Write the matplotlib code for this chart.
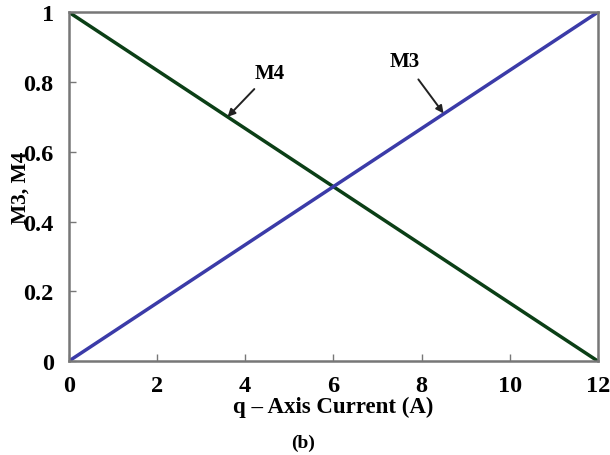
import matplotlib
matplotlib.use("Agg")
import matplotlib.pyplot as plt

current = [0, 12]
m3 = [0, 1]
m4 = [1, 0]
xticks = [0, 2, 4, 6, 8, 10, 12]
yticks = [0, 0.2, 0.4, 0.6, 0.8, 1]
ytick_labels = ["0", "0.2", "0.4", "0.6", "0.8", "1"]

plt.rcParams["font.family"] = ["Liberation Serif", "DejaVu Serif"]
plt.rcParams["font.weight"] = "bold"

fig = plt.figure(figsize=(6.1, 4.56), dpi=100)
ax = fig.add_axes([0.113, 0.206, 0.867, 0.765])

ax.plot(current, m4, color="#0b3f16", lw=2.5)
ax.plot(current, m3, color="#3b3ba8", lw=2.5)

ax.set_xlim(0, 12)
ax.set_ylim(0, 1)
ax.set_xticks(xticks)
ax.set_xticklabels([str(t) for t in xticks])
ax.set_yticks(yticks)
ax.set_yticklabels(ytick_labels)
ax.tick_params(direction="in", length=5, width=1, color="#777777",
               labelsize=17.5)
ax.tick_params(axis="x", pad=10)
ax.tick_params(axis="y", pad=11)
for lab in ax.get_xticklabels() + ax.get_yticklabels():
    lab.set_fontweight("bold")
for sp in ax.spines.values():
    sp.set_color("#777777")
    sp.set_linewidth(1.8)

ax.set_xlabel("q – Axis Current (A)", fontsize=16.5, fontweight="bold", labelpad=0)
ax.set_ylabel("M3, M4", fontsize=15.5, fontweight="bold")
ax.yaxis.set_label_coords(-0.073, 0.5)

ax.annotate("M4", xy=(3.6, 0.70), xytext=(4.55, 0.825), fontsize=15,
            fontweight="bold", ha="center", va="center",
            arrowprops=dict(arrowstyle="-|>", color="#222222", lw=1.4,
                            mutation_scale=11, shrinkA=3, shrinkB=0))
ax.annotate("M3", xy=(8.5, 0.71), xytext=(7.62, 0.86), fontsize=15,
            fontweight="bold", ha="center", va="center",
            arrowprops=dict(arrowstyle="-|>", color="#222222", lw=1.4,
                            mutation_scale=11, shrinkA=5, shrinkB=0))

fig.text(0.497, 0.028, "(b)", fontsize=14, fontweight="bold", ha="center", va="center")

fig.savefig("out.png", dpi=100)
